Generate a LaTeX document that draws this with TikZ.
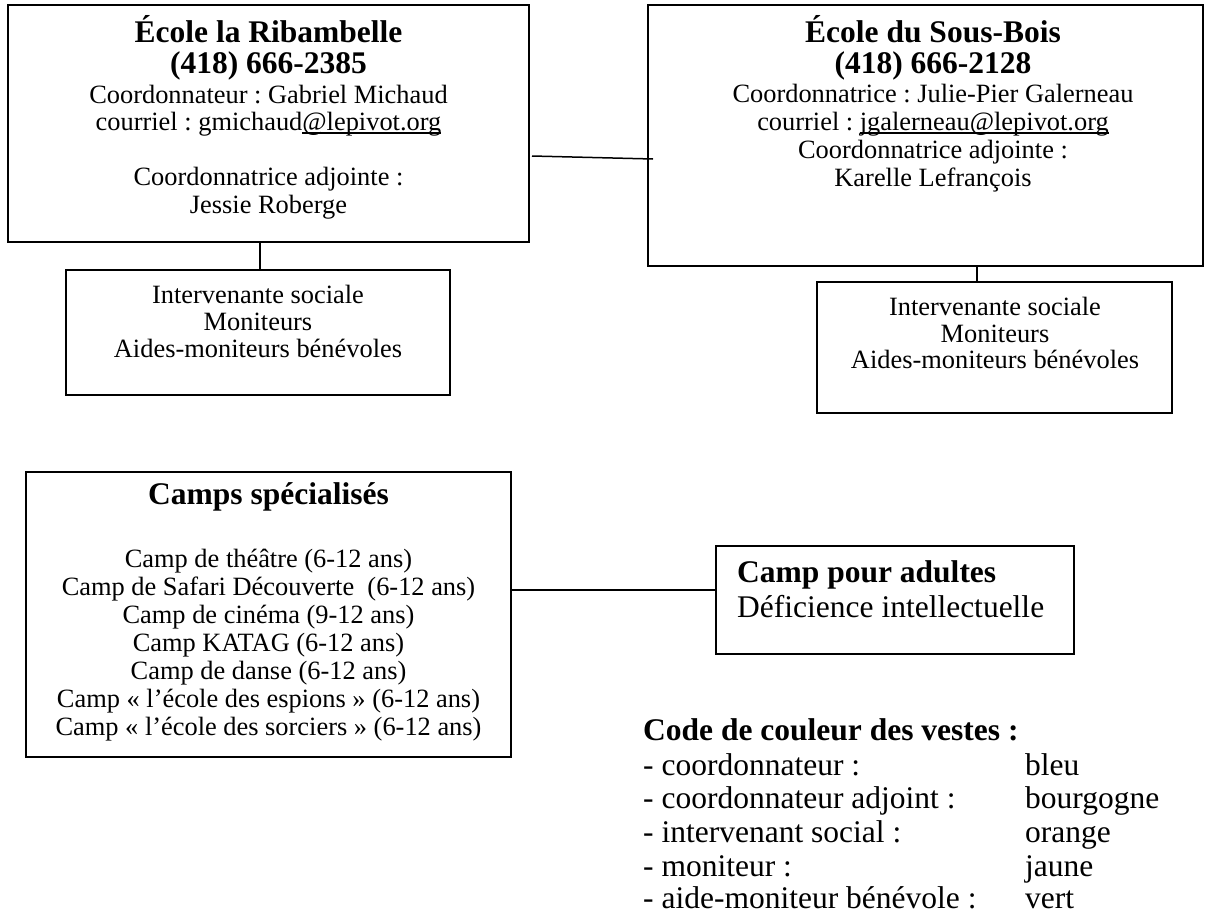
\documentclass[tikz,border=0pt]{standalone}
\usepackage{fontspec}
\setmainfont{Liberation Serif}
\frenchspacing
\newcommand{\myul}[1]{\setbox0\hbox{#1}\rlap{\rule[-3.5pt]{\wd0}{1.6pt}}\box0}
\begin{document}
\begin{tikzpicture}[x=1pt,y=-1pt,
  box/.style={draw, line width=2pt, inner sep=0pt, outer sep=0pt},
  conn/.style={line width=1.5pt},
  hdtext/.style={font=\fontsize{31.5}{33}\selectfont\bfseries, inner sep=0pt, anchor=base},
  bodytext/.style={font=\fontsize{26.4}{27.5}\selectfont, inner sep=0pt, anchor=base},
  bigtext/.style={font=\fontsize{31.5}{33}\selectfont, inner sep=0pt, anchor=base west},
  bigbold/.style={bigtext, font=\fontsize{31.5}{33}\selectfont\bfseries}]
\useasboundingbox (0,0) rectangle (1205,916);
% boxes
\node[box, minimum width=521pt, minimum height=237pt] (b1) at (268.5,123.5) {};
\node[box, minimum width=555pt, minimum height=261pt] (b2) at (925.5,135.5) {};
\node[box, minimum width=384pt, minimum height=125pt] (b3) at (258,332.5) {};
\node[box, minimum width=355pt, minimum height=131pt] (b4) at (994.5,347.5) {};
\node[box, minimum width=485pt, minimum height=285pt] (b5) at (268.5,614.5) {};
\node[box, minimum width=358pt, minimum height=108pt] (b6) at (895,600) {};
% connectors
\coordinate (c12a) at (532,156);
\coordinate (c12b) at (653,159);
\draw[conn] (c12a) -- (c12b);
\draw[conn] (b1.south -| 260,0) -- (b3.north -| 260,0);
\draw[conn] (b2.south -| 977,0) -- (b4.north -| 977,0);
\draw[conn] (b5.east |- 0,590) -- (b6.west |- 0,590);
% box 1 text
\node[hdtext] (t1a) at (268.5,42) {École la Ribambelle};
\node[hdtext] (t1b) at (268.5,73) {(418) 666-2385};
\node[bodytext] (t1c) at (268.5,103) {Coordonnateur : Gabriel Michaud};
\node[bodytext] (t1d) at (268.5,130) {courriel : gmichaud\myul{@lepivot.org}};
\node[bodytext] (t1e) at (268.5,185) {Coordonnatrice adjointe :};
\node[bodytext] (t1f) at (268.5,213) {Jessie Roberge};
% box 2 text
\node[hdtext] (t2a) at (933,42) {École du Sous-Bois};
\node[hdtext] (t2b) at (933,73) {(418) 666-2128};
\node[bodytext] (t2c) at (933,102) {Coordonnatrice : Julie-Pier Galerneau};
\node[bodytext] (t2d) at (933,130) {courriel : \myul{jgalerneau@lepivot.org}};
\node[bodytext] (t2e) at (933,158) {Coordonnatrice adjointe :};
\node[bodytext] (t2f) at (933,186) {Karelle Lefrançois};
% box 3 text
\node[bodytext] (t3a) at (258,303) {Intervenante sociale};
\node[bodytext] (t3b) at (258,330) {Moniteurs};
\node[bodytext] (t3c) at (258,357) {Aides-moniteurs bénévoles};
% box 4 text
\node[bodytext] (t4a) at (995,315) {Intervenante sociale};
\node[bodytext] (t4b) at (995,342) {Moniteurs};
\node[bodytext] (t4c) at (995,368) {Aides-moniteurs bénévoles};
% camps
\node[hdtext] (t5a) at (268.5,504) {Camps spécialisés};
\node[bodytext] (t5b) at (268.5,567) {Camp de théâtre (6-12 ans)};
\node[bodytext] (t5c) at (268.5,595) {Camp de Safari Découverte\ \ (6-12 ans)};
\node[bodytext] (t5d) at (268.5,623) {Camp de cinéma (9-12 ans)};
\node[bodytext] (t5e) at (268.5,651) {Camp KATAG (6-12 ans)};
\node[bodytext] (t5f) at (268.5,679) {Camp de danse (6-12 ans)};
\node[bodytext] (t5g) at (268.5,707) {Camp «~l’école des espions~» (6-12 ans)};
\node[bodytext] (t5h) at (268.5,735) {Camp «~l’école des sorciers~» (6-12 ans)};
% adult camp
\node[bigbold] (t6a) at (737,582) {Camp pour adultes};
\node[bigtext] (t6b) at (737,617) {Déficience intellectuelle};
% legend
\node[bigbold] (lh) at (643,740) {Code de couleur des vestes :};
\node[bigtext] (l1) at (643,775) {- coordonnateur :};
\node[bigtext] (l2) at (643,808) {- coordonnateur adjoint :};
\node[bigtext] (l3) at (643,842) {- intervenant social :};
\node[bigtext] (l4) at (643,876) {- moniteur :};
\node[bigtext] (l5) at (643,908) {- aide-moniteur bénévole :};
\node[bigtext] (v1) at (1025,775) {bleu};
\node[bigtext] (v2) at (1025,808) {bourgogne};
\node[bigtext] (v3) at (1025,842) {orange};
\node[bigtext] (v4) at (1025,876) {jaune};
\node[bigtext] (v5) at (1025,908) {vert};
\end{tikzpicture}
\end{document}
